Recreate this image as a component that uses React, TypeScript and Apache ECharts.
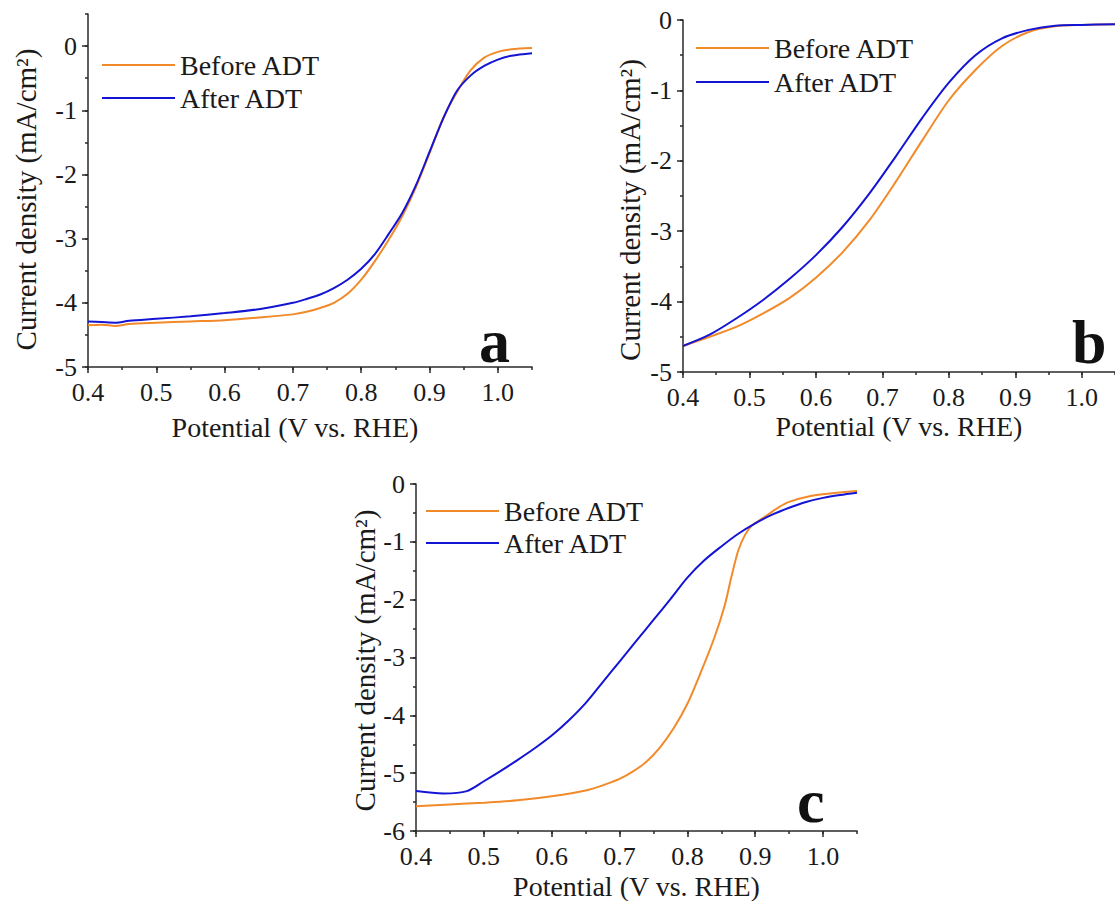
import React, { useEffect, useRef } from 'react';
import * as echarts from 'echarts';

const seriesNames = ['Before ADT', 'After ADT'];
const xMajorTicks = [0.4, 0.5, 0.6, 0.7, 0.8, 0.9, 1.0];
const yMajorTicksAB = [-5, -4, -3, -2, -1, 0];
const yMajorTicksC = [-6, -5, -4, -3, -2, -1, 0];
const panelLetters = ['a', 'b', 'c'];

// Panel a
const aBefore: [number, number][] = [
  [0.4, -4.35], [0.42, -4.34], [0.44, -4.36], [0.46, -4.33], [0.5, -4.31], [0.55, -4.29],
  [0.6, -4.27], [0.65, -4.23], [0.7, -4.18], [0.72, -4.14], [0.74, -4.08], [0.76, -4.0],
  [0.78, -3.86], [0.8, -3.64], [0.82, -3.35], [0.84, -3.02], [0.86, -2.65], [0.88, -2.2],
  [0.9, -1.67], [0.92, -1.12], [0.94, -0.72], [0.96, -0.38], [0.98, -0.18], [1.0, -0.09],
  [1.02, -0.05], [1.05, -0.03],
];
const aAfter: [number, number][] = [
  [0.4, -4.29], [0.42, -4.3], [0.44, -4.31], [0.46, -4.28], [0.5, -4.25], [0.55, -4.21],
  [0.6, -4.16], [0.65, -4.1], [0.7, -4.0], [0.72, -3.94], [0.74, -3.87], [0.76, -3.77],
  [0.78, -3.64], [0.8, -3.47], [0.82, -3.24], [0.84, -2.93], [0.86, -2.6], [0.88, -2.17],
  [0.9, -1.65], [0.92, -1.13], [0.94, -0.7], [0.96, -0.46], [0.98, -0.31], [1.0, -0.21],
  [1.02, -0.15], [1.05, -0.11],
];

// Panel b
const bBefore: [number, number][] = [
  [0.4, -4.63], [0.44, -4.5], [0.48, -4.36], [0.52, -4.17], [0.56, -3.95], [0.6, -3.66],
  [0.64, -3.3], [0.68, -2.85], [0.72, -2.3], [0.76, -1.71], [0.8, -1.14], [0.84, -0.71],
  [0.88, -0.37], [0.92, -0.17], [0.96, -0.09], [1.0, -0.07], [1.05, -0.06],
];
const bAfter: [number, number][] = [
  [0.4, -4.63], [0.44, -4.47], [0.48, -4.24], [0.52, -3.98], [0.56, -3.68], [0.6, -3.34],
  [0.64, -2.94], [0.68, -2.47], [0.72, -1.94], [0.76, -1.39], [0.8, -0.89], [0.84, -0.5],
  [0.88, -0.26], [0.92, -0.14], [0.96, -0.08], [1.0, -0.07], [1.05, -0.06],
];

// Panel c
const cBefore: [number, number][] = [
  [0.4, -5.57], [0.45, -5.54], [0.5, -5.51], [0.55, -5.47], [0.6, -5.4], [0.65, -5.3],
  [0.68, -5.19], [0.7, -5.1], [0.72, -4.97], [0.74, -4.8], [0.76, -4.55], [0.78, -4.22],
  [0.8, -3.8], [0.82, -3.25], [0.84, -2.65], [0.855, -2.1], [0.865, -1.6], [0.875, -1.15],
  [0.885, -0.88], [0.895, -0.72], [0.91, -0.6], [0.92, -0.52], [0.935, -0.4], [0.95, -0.31],
  [0.98, -0.21], [1.02, -0.15], [1.05, -0.12],
];
const cAfter: [number, number][] = [
  [0.4, -5.31], [0.44, -5.35], [0.475, -5.31], [0.5, -5.14], [0.525, -4.96], [0.55, -4.77],
  [0.575, -4.57], [0.6, -4.35], [0.625, -4.09], [0.65, -3.79], [0.675, -3.43], [0.7, -3.07],
  [0.725, -2.71], [0.75, -2.35], [0.775, -1.99], [0.8, -1.62], [0.825, -1.32], [0.85, -1.08],
  [0.875, -0.86], [0.9, -0.68], [0.925, -0.53], [0.95, -0.41], [0.975, -0.31], [1.0, -0.24],
  [1.025, -0.19], [1.05, -0.15],
];

const ORANGE = '#F28A2A';
const BLUE = '#1414D4';
const FONT = 'Liberation Serif';
const AXIS_COLOR = '#2a2a2a';
const TEXT_COLOR = '#1a1a1a';

const grids = [
  { left: 88, top: 14, width: 444, height: 353 },
  { left: 683, top: 20, width: 438, height: 352 },
  { left: 416, top: 484, width: 441, height: 350 },
];

function pad(shift: number) {
  return shift < 0 ? [0, -2 * shift, 0, 0] : [0, 0, 0, 2 * shift];
}

function majorX(gridIndex: number, nameGap: number, nameShift: number) {
  return {
    type: 'value', gridIndex, position: 'bottom', min: 0.4, max: 1.05, interval: 0.1,
    axisLine: { show: true, onZero: false, lineStyle: { color: AXIS_COLOR, width: 1.5 } },
    axisTick: { show: true, length: 6, customValues: xMajorTicks, lineStyle: { color: AXIS_COLOR, width: 1.5 } },
    axisLabel: {
      customValues: xMajorTicks, fontSize: 26, fontFamily: FONT, color: TEXT_COLOR, margin: 12,
      formatter: (v: number) => v.toFixed(1),
    },
    splitLine: { show: false },
    name: 'Potential (V vs. RHE)', nameLocation: 'middle', nameGap,
    nameTextStyle: { fontSize: 28, fontFamily: FONT, color: TEXT_COLOR, padding: pad(nameShift) },
  };
}
function minorX(gridIndex: number) {
  return {
    type: 'value', gridIndex, position: 'bottom', min: 0.4, max: 1.05, interval: 0.05,
    axisLine: { show: false, onZero: false }, axisLabel: { show: false }, splitLine: { show: false },
    axisTick: { show: true, length: 3, lineStyle: { color: AXIS_COLOR, width: 1.5 } },
  };
}
function majorY(gridIndex: number, min: number, max: number, ticks: number[], nameGap: number, nameShift: number) {
  return {
    type: 'value', gridIndex, position: 'left', min, max, interval: 1,
    axisLine: { show: true, onZero: false, lineStyle: { color: AXIS_COLOR, width: 1.5 } },
    axisTick: { show: true, length: 6, customValues: ticks, lineStyle: { color: AXIS_COLOR, width: 1.5 } },
    axisLabel: { customValues: ticks, fontSize: 26, fontFamily: FONT, color: TEXT_COLOR, margin: 11 },
    splitLine: { show: false },
    name: 'Current density (mA/cm²)', nameLocation: 'middle', nameGap,
    nameTextStyle: { fontSize: 29, fontFamily: FONT, color: TEXT_COLOR, padding: pad(nameShift) },
  };
}
function minorY(gridIndex: number, min: number, max: number) {
  return {
    type: 'value', gridIndex, position: 'left', min, max, interval: 0.5,
    axisLine: { show: false, onZero: false }, axisLabel: { show: false }, splitLine: { show: false },
    axisTick: { show: true, length: 3, lineStyle: { color: AXIS_COLOR, width: 1.5 } },
  };
}

function line(name: string, data: [number, number][], color: string, idx: number) {
  return {
    type: 'line', name, data, xAxisIndex: idx * 2, yAxisIndex: idx * 2,
    symbol: 'none', smooth: 0.3,
    lineStyle: { color, width: 2 }, itemStyle: { color },
  };
}

function legend(left: number, top: number, gap: number) {
  return {
    data: seriesNames, left, top, orient: 'vertical', icon: 'rect', itemWidth: 73, itemHeight: 2,
    itemGap: gap, selectedMode: false, padding: 0,
    textStyle: { fontSize: 28, fontFamily: FONT, color: TEXT_COLOR, lineHeight: 30 },
  };
}

export default function App() {
  const ref = useRef<HTMLDivElement>(null);
  useEffect(() => {
    if (!ref.current) return;
    const chart = echarts.init(ref.current, undefined, { renderer: 'svg' });
    chart.setOption({
      animation: false,
      backgroundColor: '#ffffff',
      grid: grids,
      xAxis: [majorX(0, 46, -15), minorX(0), majorX(1, 40, 0), minorX(1), majorX(2, 41, 0), minorX(2)],
      yAxis: [
        majorY(0, -5, 0.5, yMajorTicksAB, 48, -9), minorY(0, -5, 0.5),
        majorY(1, -5, 0, yMajorTicksAB, 39, -14), minorY(1, -5, 0),
        majorY(2, -6, 0, yMajorTicksC, 36, -3), minorY(2, -6, 0),
      ],
      legend: [legend(102, 50, 3), legend(696, 33, 4), legend(426, 496, 2)],
      series: [
        line(seriesNames[0], aBefore, ORANGE, 0), line(seriesNames[1], aAfter, BLUE, 0),
        line(seriesNames[0], bBefore, ORANGE, 1), line(seriesNames[1], bAfter, BLUE, 1),
        line(seriesNames[0], cBefore, ORANGE, 2), line(seriesNames[1], cAfter, BLUE, 2),
      ],
      graphic: [
        { type: 'text', x: 479, y: 341, style: { text: panelLetters[0], font: `bold 62px ${FONT}`, fill: '#111', verticalAlign: 'middle' } },
        { type: 'text', x: 1072, y: 342, style: { text: panelLetters[1], font: `bold 62px ${FONT}`, fill: '#111', verticalAlign: 'middle' } },
        { type: 'text', x: 797, y: 801, style: { text: panelLetters[2], font: `bold 62px ${FONT}`, fill: '#111', verticalAlign: 'middle' } },
      ],
    });
    return () => chart.dispose();
  }, []);
  return <div ref={ref} style={{ position: 'fixed', left: 0, top: 0, width: 1115, height: 901, background: '#fff' }} />;
}
